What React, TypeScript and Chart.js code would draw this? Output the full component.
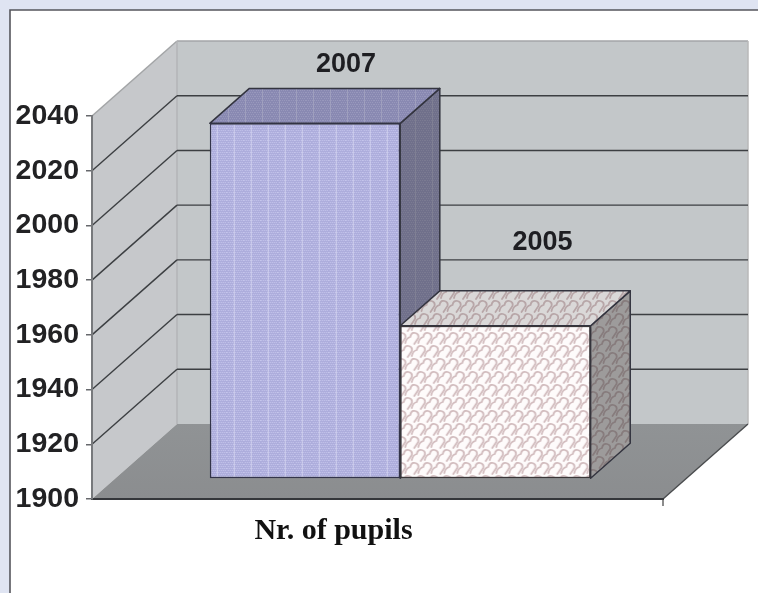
import React, { useEffect, useRef } from "react";
import { Chart, registerables } from "chart.js";

Chart.register(...registerables);

const categories = ["Nr. of pupils"];
const seriesNames = ["2007", "2005"];
const values2007 = [2030];
const values2005 = [1956];
const yTicks = [1900, 1920, 1940, 1960, 1980, 2000, 2020, 2040];

const DEPTH = { x: 85, y: -75 };
const BAR_NEAR = 0.267;
const BAR_FAR = 0.733;
const LABEL_OFFSETS = [
  { x: 41, y: -24 },
  { x: 47, y: -48 },
];

function bluePattern(ctx: CanvasRenderingContext2D) {
  const c = document.createElement("canvas");
  c.width = 17;
  c.height = 4;
  const g = c.getContext("2d")!;
  g.fillStyle = "#adaddc";
  g.fillRect(0, 0, 17, 4);
  g.fillStyle = "#c6c6ec";
  for (let x = 0; x < 17; x += 2) {
    for (let y = 0; y < 4; y += 2) {
      g.fillRect(x + (y === 0 ? 0 : 1), y, 1, 1);
    }
  }
  g.fillStyle = "rgba(226,226,248,0.6)";
  g.fillRect(7, 0, 1, 4);
  return ctx.createPattern(c, "repeat")!;
}

function scalePattern(ctx: CanvasRenderingContext2D) {
  const c = document.createElement("canvas");
  c.width = 26;
  c.height = 26;
  const g = c.getContext("2d")!;
  g.fillStyle = "#fefbfb";
  g.fillRect(0, 0, 26, 26);
  g.strokeStyle = "#d2bcbe";
  g.lineWidth = 1.8;
  g.lineCap = "round";
  const scale = (ox: number, oy: number) => {
    g.beginPath();
    g.moveTo(ox - 1, oy + 12);
    g.quadraticCurveTo(ox, oy + 7, ox + 4, oy + 6);
    g.quadraticCurveTo(ox + 5, oy + 1, ox + 9, oy + 2);
    g.quadraticCurveTo(ox + 13, oy + 3, ox + 12, oy + 7);
    g.lineTo(ox + 8, oy + 13);
    g.stroke();
  };
  for (let row = -1; row < 3; row++) {
    for (let col = -1; col < 3; col++) {
      scale(col * 13 + (row % 2 === 0 ? 0 : 6.5), row * 13);
    }
  }
  return ctx.createPattern(c, "repeat")!;
}

function poly(ctx: CanvasRenderingContext2D, pts: number[][]) {
  ctx.beginPath();
  pts.forEach((p, i) => (i ? ctx.lineTo(p[0], p[1]) : ctx.moveTo(p[0], p[1])));
  ctx.closePath();
}

function line(ctx: CanvasRenderingContext2D, a: number[], b: number[], color: string, w: number) {
  ctx.strokeStyle = color;
  ctx.lineWidth = w;
  ctx.beginPath();
  ctx.moveTo(a[0], a[1]);
  ctx.lineTo(b[0], b[1]);
  ctx.stroke();
}

const ox = DEPTH.x * BAR_NEAR;
const oy = DEPTH.y * BAR_NEAR;
const tx = DEPTH.x * (BAR_FAR - BAR_NEAR);
const ty = DEPTH.y * (BAR_FAR - BAR_NEAR);
const shades = [
  { top: "rgba(80,80,110,0.38)", side: "rgba(62,62,72,0.55)" },
  { top: "rgba(90,90,90,0.22)", side: "rgba(60,60,60,0.5)" },
];

const scene3d = {
  id: "scene3d",
  beforeDraw(chart: any) {
    const { ctx, width, height } = chart;
    ctx.save();
    ctx.fillStyle = "#dfe4f2";
    ctx.fillRect(0, 0, width, height);
    ctx.fillStyle = "#ffffff";
    ctx.fillRect(10, 10, width, height);
    ctx.strokeStyle = "#55565c";
    ctx.lineWidth = 1.6;
    ctx.beginPath();
    ctx.moveTo(10, height);
    ctx.lineTo(10, 10);
    ctx.lineTo(width, 10);
    ctx.stroke();
    ctx.restore();
  },
  beforeDatasetsDraw(chart: any) {
    const { ctx, chartArea: a, scales } = chart;
    const dx = DEPTH.x;
    const dy = DEPTH.y;
    const { left: l, right: r, top: t, bottom: b } = a;
    ctx.save();
    ctx.fillStyle = "#c3c7c9";
    ctx.fillRect(l + dx, t + dy, r - l, b - t);
    poly(ctx, [[l, t], [l + dx, t + dy], [l + dx, b + dy], [l, b]]);
    ctx.fillStyle = "#c6c8cb";
    ctx.fill();
    poly(ctx, [[l, b], [l + dx, b + dy], [r + dx, b + dy], [r, b]]);
    const grad = ctx.createLinearGradient(0, b + dy, 0, b);
    grad.addColorStop(0, "#909395");
    grad.addColorStop(1, "#8b8d8f");
    ctx.fillStyle = grad;
    ctx.fill();
    line(ctx, [l, t], [l + dx, t + dy], "#a3a5a7", 1.5);
    line(ctx, [l + dx, t + dy], [r + dx, t + dy], "#a3a5a7", 1.5);
    line(ctx, [l + dx, t + dy], [l + dx, b + dy], "#b3b5b7", 1.5);
    line(ctx, [r + dx, t + dy], [r + dx, b + dy], "#b8b8b8", 1.5);
    for (const v of yTicks) {
      if (v === yTicks[0] || v === yTicks[yTicks.length - 1]) continue;
      const y = scales.y.getPixelForValue(v);
      line(ctx, [l, y], [l + dx, y + dy], "#3c3f42", 1.4);
      line(ctx, [l + dx, y + dy], [r + dx, y + dy], "#3c3f42", 1.4);
    }
    line(ctx, [r, b], [r + dx, b + dy], "#4a4c4e", 1.4);
    line(ctx, [r, b], [r, b + 7], "#666", 1.5);
    ctx.restore();

    // side and top faces go under the front faces of the bars
    chart.data.datasets.forEach((ds: any, i: number) => {
      const bar = chart.getDatasetMeta(i).data[0];
      const { x, y, base, width } = bar.getProps(["x", "y", "base", "width"], true);
      const x0 = x - width / 2 + ox;
      const x1 = x + width / 2 + ox;
      const yT = y + oy;
      const yB = base + oy;
      ctx.save();
      const side = [[x1, yT], [x1 + tx, yT + ty], [x1 + tx, yB + ty], [x1, yB]];
      const top = [[x0, yT], [x0 + tx, yT + ty], [x1 + tx, yT + ty], [x1, yT]];
      for (const [pts, shade] of [[side, shades[i].side], [top, shades[i].top]] as any) {
        poly(ctx, pts);
        ctx.fillStyle = ds.backgroundColor;
        ctx.fill();
        ctx.fillStyle = shade;
        ctx.fill();
        ctx.strokeStyle = "#33343f";
        ctx.lineWidth = 1.5;
        ctx.lineJoin = "round";
        ctx.stroke();
      }
      ctx.restore();
    });
  },
  beforeDatasetDraw(chart: any) {
    chart.ctx.save();
    chart.ctx.translate(ox, oy);
  },
  afterDatasetDraw(chart: any) {
    chart.ctx.restore();
  },
  afterDatasetsDraw(chart: any) {
    const { ctx } = chart;
    chart.data.datasets.forEach((ds: any, i: number) => {
      const bar = chart.getDatasetMeta(i).data[0];
      const { x, y } = bar.getProps(["x", "y"], true);
      ctx.save();
      ctx.fillStyle = "#1e1e22";
      ctx.font = "bold 27px 'Liberation Sans'";
      ctx.textAlign = "center";
      ctx.textBaseline = "middle";
      ctx.fillText(ds.label, x + ox + LABEL_OFFSETS[i].x, y + oy + ty + LABEL_OFFSETS[i].y);
      ctx.restore();
    });
  },
};

export default function App() {
  const ref = useRef<HTMLCanvasElement>(null);
  useEffect(() => {
    const ctx = ref.current!.getContext("2d")!;
    const chart = new Chart(ctx, {
      type: "bar",
      data: {
        labels: categories,
        datasets: [
          {
            label: seriesNames[0],
            data: values2007,
            base: yTicks[0],
            backgroundColor: bluePattern(ctx),
            borderColor: "#33344a",
            borderWidth: 1.5,
            borderSkipped: false,
            clip: false,
          },
          {
            label: seriesNames[1],
            data: values2005,
            base: yTicks[0],
            backgroundColor: scalePattern(ctx),
            borderColor: "#3a3638",
            borderWidth: 1.5,
            borderSkipped: false,
            clip: false,
          },
        ],
      } as any,
      options: {
        responsive: false,
        animation: false,
        devicePixelRatio: 1,
        layout: { padding: { top: 116, right: 95, left: 0, bottom: 0 } },
        plugins: { legend: { display: false }, title: { display: false }, tooltip: { enabled: false } },
        datasets: { bar: { categoryPercentage: 0.667, barPercentage: 1 } },
        scales: {
          x: {
            grid: { display: false, drawTicks: false },
            border: { display: true, color: "#34363a", width: 2, z: 1 },
            ticks: {
              color: "#111111",
              font: { family: "'Liberation Serif'", size: 30, weight: "bold" },
              padding: 14,
              labelOffset: -44,
              maxRotation: 0,
            },
            afterFit(s: any) {
              s.height = 94;
            },
          },
          y: {
            min: 1900,
            max: 2040,
            grid: { drawOnChartArea: false, color: "#66686c", tickLength: 6, lineWidth: 1.5 },
            border: { display: true, color: "#77797c", width: 2, z: 1 },
            ticks: {
              stepSize: 20,
              color: "#222224",
              font: { family: "'Liberation Sans'", size: 28.5, weight: "bold" },
              padding: 7,
              callback: (v: any) => String(v),
            },
            afterFit(s: any) {
              s.width = 92;
            },
          },
        },
      } as any,
      plugins: [scene3d] as any,
    });
    return () => chart.destroy();
  }, []);
  return (
    <canvas
      ref={ref}
      width={758}
      height={593}
      style={{ position: "fixed", left: 0, top: 0, width: 758, height: 593, display: "block", filter: "blur(0.45px)" }}
    />
  );
}
